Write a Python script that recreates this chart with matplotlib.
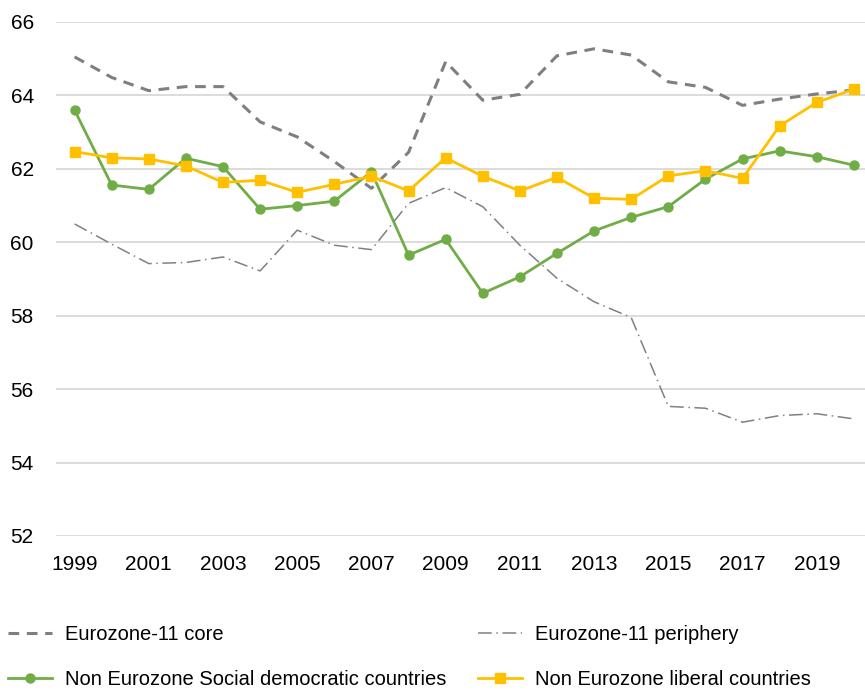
import matplotlib
matplotlib.use("Agg")
import matplotlib.pyplot as plt

years = list(range(1999, 2021))
tick_years = list(range(1999, 2021, 2))

core = [65.05, 64.49, 64.13, 64.24, 64.24, 63.28, 62.87, 62.2, 61.47, 62.45, 64.92,
        63.87, 64.03, 65.08, 65.27, 65.1, 64.37, 64.22, 63.73, 63.9, 64.04, 64.15]
periphery = [60.5, 59.95, 59.42, 59.45, 59.6, 59.22, 60.33, 59.92, 59.8, 61.06, 61.49,
             60.97, 59.92, 59.02, 58.38, 57.95, 55.53, 55.48, 55.1, 55.28, 55.33, 55.19]
social_dem = [63.6, 61.56, 61.44, 62.29, 62.06, 60.9, 61.0, 61.12, 61.92, 59.65, 60.08,
              58.61, 59.06, 59.7, 60.31, 60.68, 60.97, 61.72, 62.27, 62.49, 62.33, 62.1]
liberal = [62.47, 62.3, 62.27, 62.08, 61.63, 61.69, 61.36, 61.58, 61.8, 61.4, 62.3,
           61.8, 61.4, 61.77, 61.2, 61.17, 61.81, 61.95, 61.74, 63.17, 63.81, 64.17]

plt.rcParams['font.family'] = ['Liberation Sans', 'DejaVu Sans']

fig = plt.figure(figsize=(8.65, 6.92), dpi=100)
ax = fig.add_axes([56 / 865, 156 / 692, 809 / 865, 514 / 692])

x = list(range(len(years)))
l_core, = ax.plot(x, core, color='#7f7f7f', lw=2.2, dashes=(3.5, 2.5), label='Eurozone-11 core')
l_sd, = ax.plot(x, social_dem, color='#70ad47', lw=2.0, marker='o', markersize=6.5,
                label='Non Eurozone Social democratic countries')
l_per, = ax.plot(x, periphery, color='#808080', lw=1.1, dashes=(9, 3, 1, 3),
                 label='Eurozone-11 periphery')
l_lib, = ax.plot(x, liberal, color='#ffc000', lw=2.0, marker='s', markersize=7,
                 label='Non Eurozone liberal countries')

ax.set_ylim(52, 66)
ax.set_yticks(range(52, 67, 2))
ax.set_xlim(-0.5, 21.3)
ax.set_xticks([years.index(y) for y in tick_years])
ax.set_xticklabels([str(y) for y in tick_years])
ax.grid(axis='y', color='#d9d9d9', lw=1.3)
ax.set_axisbelow(True)
for s in ax.spines.values():
    s.set_visible(False)
ax.tick_params(axis='both', length=0, labelsize=15, labelcolor='#000000')
ax.tick_params(axis='y', pad=16)
ax.tick_params(axis='x', pad=14)

# two legend columns placed separately
leg_kw = dict(loc='center left', frameon=False, fontsize=14.5, handlelength=2.2,
              handletextpad=0.65, labelspacing=1.3, borderaxespad=0, borderpad=0)
leg1 = fig.legend([l_core, l_sd], [l_core.get_label(), l_sd.get_label()],
                  bbox_to_anchor=(8 / 865, 0.05), **leg_kw)
leg2 = fig.legend([l_per, l_lib], [l_per.get_label(), l_lib.get_label()],
                  bbox_to_anchor=(478 / 865, 0.05), **leg_kw)

fig.savefig('out.png', dpi=100)
